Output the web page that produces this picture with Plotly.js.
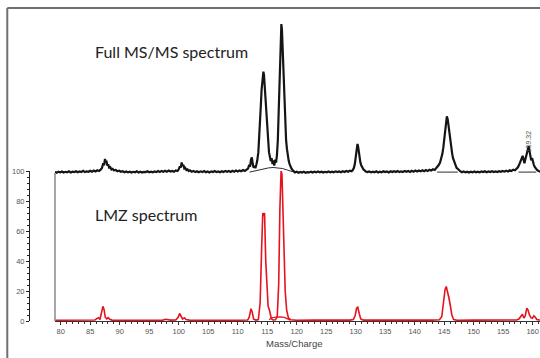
<!DOCTYPE html>
<html>
<head>
<meta charset="utf-8">
<script src="https://cdn.plot.ly/plotly-3.0.1.min.js"></script>
<style>html,body{margin:0;padding:0;background:#fff;}#chart{width:540px;height:358px;}</style>
</head>
<body>
<div id="chart"></div>
<script>
// Full MS/MS spectrum (upper trace, relative intensity, tallest peak = 100)
const fullMsMs = [
[79.0,0.6],[79.3,0.2],[79.6,0.9],[79.9,0.4],[80.2,1.0],[80.5,0.3],[80.8,0.8],[81.1,0.5],[81.4,1.1],[81.7,0.4],[82.0,0.9],[82.3,0.6],[82.6,1.2],[82.9,0.5],[83.2,1.0],[83.5,0.7],[83.8,1.4],[84.1,0.6],[84.4,1.1],[84.7,0.8],[85.0,1.5],[85.3,0.9],[85.6,1.6],[85.9,1.0],[86.2,1.8],[86.5,1.3],[86.8,2.4],
[87.0,3.5],[87.2,6.5],[87.35,5.2],[87.5,9.5],[87.62,7.0],[87.75,8.2],[87.9,5.0],[88.05,5.8],[88.2,3.6],[88.4,3.9],[88.6,2.4],[88.8,2.8],[89.0,1.8],[89.3,2.1],[89.6,1.2],[89.9,1.5],[90.2,0.8],
[90.5,1.2],[90.8,0.5],[91.1,1.0],[91.4,0.4],[91.7,0.9],[92.0,0.3],[92.3,0.8],[92.6,0.5],[92.9,1.1],[93.2,0.4],[93.5,0.9],[93.8,0.3],[94.1,0.8],[94.4,0.6],[94.7,1.2],[95.0,0.5],[95.3,0.9],[95.6,0.4],[95.9,1.0],[96.2,0.6],[96.5,1.3],[96.8,0.7],[97.1,1.4],[97.4,0.8],[97.7,1.5],[98.0,0.9],[98.3,1.6],[98.6,1.0],[98.9,1.4],[99.2,0.9],[99.5,1.7],[99.8,1.3],
[100.0,2.5],[100.2,4.5],[100.35,3.6],[100.5,7.0],[100.65,4.8],[100.8,5.4],[100.95,3.0],[101.1,3.4],[101.3,2.0],[101.5,2.4],[101.7,1.3],[101.9,1.8],
[102.2,0.9],[102.5,1.4],[102.8,0.6],[103.1,1.2],[103.4,0.5],[103.7,1.1],[104.0,0.6],[104.3,1.3],[104.6,0.5],[104.9,1.0],[105.2,0.4],[105.5,1.1],[105.8,0.7],[106.1,1.3],[106.4,0.6],[106.7,1.0],[107.0,0.5],[107.3,1.2],[107.6,0.7],[107.9,1.4],[108.2,0.8],[108.5,1.3],[108.8,0.7],[109.1,1.5],[109.4,0.9],[109.7,1.6],[110.0,1.0],[110.3,1.7],[110.6,1.2],[110.9,2.0],[111.2,1.4],[111.5,2.2],
[111.75,3.0],[111.95,5.5],[112.1,4.2],[112.25,9.0],[112.4,10.5],[112.55,6.0],[112.7,3.5],[112.85,4.8],[113.0,3.2],[113.15,5.5],[113.3,8.0],[113.5,14],[113.7,26],[113.9,44],[114.05,56],[114.2,64],[114.35,68],[114.45,66],[114.55,60],[114.7,48],[114.85,36],[115.0,27],[115.15,20],[115.3,14],[115.45,11],[115.6,8],[115.75,10],[115.9,6],[116.05,8.5],[116.2,5],[116.35,9],[116.5,7],[116.65,12],[116.8,22],[116.95,42],[117.1,66],[117.25,86],[117.4,100],[117.5,96],[117.6,84],[117.75,64],[117.9,45],[118.05,32],[118.2,22],[118.35,16],[118.5,11],[118.65,8],[118.8,6],[118.95,4],[119.1,3],[119.3,2],[119.5,1.2],[119.7,0.4],
[120.0,0.8],[120.3,0.2],[120.6,0.7],[120.9,0.3],[121.2,0.8],[121.5,0.2],[121.8,0.6],[122.1,0.4],[122.4,0.9],[122.7,0.3],[123.0,0.8],[123.3,0.4],[123.6,1.0],[123.9,0.5],[124.2,0.9],[124.5,0.3],[124.8,0.8],[125.1,0.5],[125.4,1.0],[125.7,0.4],[126.0,0.9],[126.3,0.5],[126.6,1.1],[126.9,0.6],[127.2,1.0],[127.5,0.5],[127.8,1.2],[128.1,0.7],[128.4,1.3],[128.7,0.8],[129.0,1.5],[129.3,1.1],
[129.5,2.0],[129.7,3.5],[129.85,6.0],[130.0,10],[130.15,15],[130.3,19.5],[130.4,18],[130.5,14],[130.65,10],[130.8,7],[130.95,5],[131.1,3.5],[131.3,2.5],[131.5,1.8],[131.7,1.0],
[132.0,0.6],[132.3,1.0],[132.6,0.4],[132.9,0.9],[133.2,0.5],[133.5,1.1],[133.8,0.4],[134.1,0.9],[134.4,0.5],[134.7,1.2],[135.0,0.6],[135.3,1.0],[135.6,0.4],[135.9,1.1],[136.2,0.6],[136.5,1.2],[136.8,0.7],[137.1,1.3],[137.4,0.6],[137.7,1.1],[138.0,0.7],[138.3,1.4],[138.6,0.8],[138.9,1.3],[139.2,0.7],[139.5,1.5],[139.8,0.9],[140.1,1.6],[140.4,1.0],[140.7,1.7],[141.0,1.1],[141.3,1.8],[141.6,1.2],[141.9,2.0],[142.2,1.3],[142.5,2.1],[142.8,1.6],[143.1,2.5],[143.4,2.0],
[143.65,3.2],[143.9,4.0],[144.1,5.5],[144.3,7.0],[144.5,9.5],[144.7,13],[144.85,17],[145.0,22],[145.15,28],[145.3,34],[145.45,38],[145.6,36],[145.75,31],[145.9,25],[146.05,21],[146.2,16],[146.35,13],[146.5,10],[146.65,8.5],[146.8,6],[146.95,5],[147.1,3.5],[147.3,2.8],[147.5,1.8],[147.7,1.2],
[148.0,0.5],[148.3,1.0],[148.6,0.4],[148.9,0.9],[149.2,0.3],[149.5,0.8],[149.8,0.4],[150.1,1.0],[150.4,0.5],[150.7,0.9],[151.0,0.4],[151.3,1.0],[151.6,0.6],[151.9,1.2],[152.2,0.5],[152.5,1.0],[152.8,0.6],[153.1,1.2],[153.4,0.7],[153.7,1.1],[154.0,0.6],[154.3,1.2],[154.6,0.8],[154.9,1.4],[155.2,0.9],[155.5,1.5],[155.8,1.0],[156.1,1.8],[156.4,1.3],[156.7,2.2],[157.0,1.8],[157.3,3.0],
[157.5,3.8],[157.7,5.5],[157.9,7.0],[158.1,9.5],[158.3,11.5],[158.45,8.0],[158.6,6.5],[158.75,9.0],[158.9,12],[159.05,14],[159.2,16.5],[159.32,18],[159.45,15],[159.6,11],[159.75,8.5],[159.9,10],[160.05,7],[160.2,5.5],[160.35,4],[160.5,3.5],[160.65,2.5],[160.8,1.8],[161.0,1.2],[161.3,0.8]
];
// thin baseline / envelope lines under the Full MS/MS peaks
const fullBaseline = [
[112.0,0.6],[112.8,1.3],[113.6,2.2],[114.4,2.9],[115.2,3.4],[116.0,3.7],[116.8,3.6],[117.6,3.0],[118.4,2.0],[119.2,1.0],[120.0,0.6],[120.0,null],
[143.8,0.6],[147.3,0.6],[147.3,null],
[157.6,0.6],[160.6,0.6]
];
// LMZ spectrum (lower trace, relative abundance %)
const lmz = [
[79.05,0.5],[81,0.6],[83,0.5],[85,0.6],[85.8,0.7],[86.1,1.6],[86.4,2.2],[86.65,1.0],[86.9,4.5],[87.15,9.8],[87.35,7.5],[87.55,2.5],[87.8,1.4],[88.05,2.2],[88.3,1.2],[88.7,0.6],[91,0.5],[94,0.6],[97.3,0.6],[97.8,1.2],[98.2,0.9],[98.6,0.6],[99.5,0.7],[99.9,2.5],[100.15,5.0],[100.4,2.6],[100.65,1.3],[100.95,2.2],[101.25,1.0],[101.8,0.6],[104,0.5],[107,0.6],[110,0.5],
[111.7,0.7],[111.95,2.5],[112.25,8.2],[112.45,6.0],[112.7,1.2],[113.1,0.6],[113.5,0.9],[113.8,12],[114.05,48],[114.25,72],[114.4,70],[114.55,72],[114.75,40],[114.95,20],[115.15,10],[115.4,7],[115.7,1.5],[116.0,0.7],[116.4,0.8],[116.7,3],[116.95,25],[117.15,75],[117.35,100],[117.5,98],[117.65,80],[117.85,45],[118.05,20],[118.3,7],[118.6,2],[119.0,0.8],
[120,0.5],[123,0.6],[126,0.5],[129,0.6],[129.6,1.0],[129.9,3.5],[130.15,8.5],[130.35,9.2],[130.6,5],[130.85,1.4],[131.3,0.6],[134,0.5],[137,0.6],[140,0.5],[143,0.6],
[144.2,0.8],[144.6,3],[144.9,13],[145.15,21],[145.35,23],[145.55,20],[145.8,15.5],[146.05,10],[146.3,4],[146.6,1.0],[147.2,0.5],[150,0.6],[153,0.5],[156,0.6],
[157.3,0.7],[157.7,1.5],[158.0,3.5],[158.25,4.5],[158.5,2.0],[158.75,3.5],[159.0,8.5],[159.2,7.5],[159.45,4],[159.7,2.2],[159.95,1.8],[160.2,3.5],[160.45,2.5],[160.7,1],[161.2,0.6]
];
const lmzHump = [[115.3,0.9],[115.8,2.2],[116.5,2.6],[117.2,2.8],[117.9,2.4],[118.5,1.4],[118.9,0.6]];

const xTickVals = [80,85,90,95,100,105,110,115,120,125,130,135,140,145,150,155,160];
const xTickText = ['80','85','90','95','100','105','110','115','120','125','130','135','140','145','150','155','160'];
const yTickVals = [0,20,40,60,80,100];
const yTickText = ['0','20','40','60','80','100'];
const labels = {upper:'Full MS/MS spectrum', lower:'LMZ spectrum', peak:'159.32', xTitle:'Mass/Charge'};

const xs = a => a.map(p => p[0]);
const ys = a => a.map(p => p[1]);

const BLACK = '#151515', RED = '#e5131f';
const tickFont = {family:'Liberation Sans, Arial, sans-serif', size:7.5, color:'#555'};

const traces = [
  {x:xs(fullBaseline), y:ys(fullBaseline), xaxis:'x', yaxis:'y2', mode:'lines', line:{color:BLACK, width:0.9}, connectgaps:false, hoverinfo:'skip'},
  {x:xs(fullMsMs), y:ys(fullMsMs), xaxis:'x', yaxis:'y2', mode:'lines', line:{color:BLACK, width:2.2}, hoverinfo:'skip'},
  {x:xs(lmzHump), y:ys(lmzHump), xaxis:'x', yaxis:'y', mode:'lines', line:{color:RED, width:1.2}, hoverinfo:'skip'},
  {x:xs(lmz), y:ys(lmz), xaxis:'x', yaxis:'y', mode:'lines', line:{color:RED, width:1.6}, hoverinfo:'skip'}
];

const layout = {
  width:540, height:358,
  margin:{l:29, r:0, t:8, b:37, pad:0},
  paper_bgcolor:'#fff', plot_bgcolor:'rgba(0,0,0,0)',
  showlegend:false, hovermode:false,
  xaxis:{
    domain:[0.0509,1], range:[79.03,161.24], anchor:'y',
    showline:true, linecolor:'#333', linewidth:1,
    ticks:'outside', ticklen:3, tickwidth:1, tickcolor:'#333',
    tickmode:'array', tickvals:xTickVals, ticktext:xTickText, tickfont:tickFont,
    minor:{dtick:1, tick0:0, ticks:'outside', ticklen:2, tickcolor:'#333', showgrid:false},
    showgrid:false, zeroline:false
  },
  yaxis:{
    domain:[0,0.4792], range:[0,100], anchor:'free', position:0,
    showline:true, linecolor:'#222', linewidth:1,
    ticks:'outside', ticklen:3, tickwidth:1, tickcolor:'#222',
    tickmode:'array', tickvals:yTickVals, ticktext:yTickText, tickfont:tickFont,
    minor:{dtick:4, tick0:0, ticks:'outside', ticklen:2, tickcolor:'#222', showgrid:false},
    showgrid:false, zeroline:false
  },
  yaxis2:{
    domain:[0.4633,1], range:[-2.01,110.74], anchor:'x', visible:false,
    showgrid:false, zeroline:false
  },
  shapes:[
    {type:'line', xref:'paper', yref:'paper', x0:0.0509, x1:0.0509, y0:0, y1:0.4728, line:{color:'#8a8a8a', width:1.5}},
    {type:'line', xref:'paper', yref:'paper', x0:-0.0425, x1:-0.0425, y0:1, y1:-0.2, line:{color:'#707070', width:2}},
    {type:'line', xref:'paper', yref:'paper', x0:-0.0425, x1:1.0, y0:1, y1:1, line:{color:'#707070', width:2}}
  ],
  annotations:[
    {text:labels.upper, xref:'x', yref:'y2', x:85.4, y:81.4, xanchor:'left', yanchor:'middle', showarrow:false,
     font:{family:'Lato, Open Sans, sans-serif', size:16, color:'#222'}},
    {text:labels.lower, xref:'x', yref:'y', x:85.4, y:70.7, xanchor:'left', yanchor:'middle', showarrow:false,
     font:{family:'Lato, Open Sans, sans-serif', size:16, color:'#222'}},
    {text:labels.peak, xref:'x', yref:'y2', x:159.3, y:21, xanchor:'center', yanchor:'middle', textangle:-90, showarrow:false,
     font:{family:'Liberation Sans, Arial, sans-serif', size:7, color:'#555'}},
    {text:labels.xTitle, xref:'paper', yref:'paper', x:0.520, y:-0.0703, xanchor:'center', yanchor:'middle', showarrow:false,
     font:{family:'Liberation Sans, Arial, sans-serif', size:9.5, color:'#444'}}
  ]
};

Plotly.newPlot('chart', traces, layout, {displayModeBar:false, staticPlot:true});
</script>
</body>
</html>
